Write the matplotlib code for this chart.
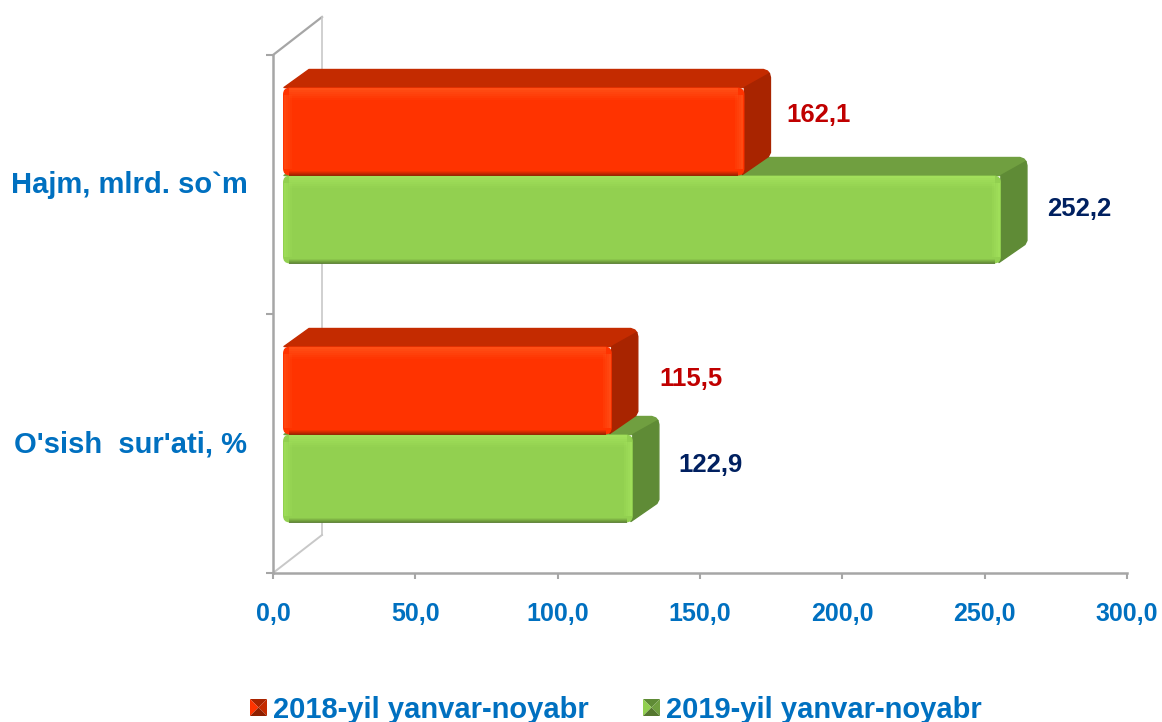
import matplotlib
matplotlib.use('Agg')  # no display in the sandbox
import matplotlib.pyplot as plt
from matplotlib.patches import FancyBboxPatch, Polygon, Rectangle
from matplotlib.transforms import IdentityTransform

plt.rcParams['font.family'] = ['Liberation Sans', 'DejaVu Sans']

categories = ["O'sish  sur'ati, %", "Hajm, mlrd. so`m"]
series_names = ['2018-yil yanvar-noyabr', '2019-yil yanvar-noyabr']
values_2018 = [115.5, 162.1]
values_2019 = [122.9, 252.2]
value_labels_2018 = ['115,5', '162,1']
value_labels_2019 = ['122,9', '252,2']
x_ticks = [0, 50, 100, 150, 200, 250, 300]
x_tick_labels = ['0,0', '50,0', '100,0', '150,0', '200,0', '250,0', '300,0']

W, H = 1162, 722
BLUE = '#0070C0'
AXIS = '#A6A6A6'
RED = dict(front='#FF3300', light='#FF5A1F', dark='#8E1F00', top='#C42B00', side='#A82400', text='#C00000')
GREEN = dict(front='#92D050', light='#A9E860', dark='#55772F', top='#709F40', side='#5F8B36', text='#002060')

# front face of the bars sits this far from the axis, depth goes to the back wall
SHIFT_X, SHIFT_Y = 10, 9
DEPTH_X, DEPTH_Y = 26, 18
WALL_X, WALL_Y = 49, 38
BAR_H = 88 / 259

fig = plt.figure(figsize=(W / 100, H / 100), dpi=100)
ax = fig.add_axes([273 / W, (H - 573) / H, 854 / W, 518 / H])
ax.set_xlim(0, 300)
ax.set_ylim(0, 2)
ax.patch.set_alpha(0)

for side in ['top', 'right']:
    ax.spines[side].set_visible(False)
for side in ['left', 'bottom']:
    ax.spines[side].set_color(AXIS)
    ax.spines[side].set_linewidth(1.8)

ax.set_xticks(x_ticks)
ax.set_xticklabels(x_tick_labels, fontsize=18, fontweight='bold', color=BLUE)
ax.tick_params(axis='x', length=4, width=1.5, color=AXIS, pad=17)
ax.set_yticks([0, 1, 2])
ax.set_yticklabels([])
ax.tick_params(axis='y', which='major', length=5, width=1.5, color=AXIS)
# minor ticks carry the category names, nudged 2 px up
ax.set_yticks([0.508, 1.508], minor=True)
ax.set_yticklabels(categories, minor=True, fontsize=21, fontweight='bold', color=BLUE)
ax.tick_params(axis='y', which='minor', length=0, pad=18.5)


def px(x, y):
    return ax.transData.transform((x, y))


def add_poly(points, color, z):
    ax.add_patch(Polygon(points, closed=True, facecolor=color, edgecolor=color, lw=1,
                         joinstyle='round', transform=IdentityTransform(), zorder=z,
                         clip_on=False))


def add_strip(x, y, w, h, color, alpha, z):
    ax.add_patch(Rectangle((x, y), w, h, facecolor=color, edgecolor='none', alpha=alpha,
                           transform=IdentityTransform(), zorder=z, clip_on=False))


def draw_bar(value, y_low, colors, z):
    x0, y0 = px(0, y_low)
    x1, y1 = px(value, y_low + BAR_H)
    x0, x1 = x0 + SHIFT_X, x1 + SHIFT_X
    y0, y1 = y0 + SHIFT_Y, y1 + SHIFT_Y
    bx, by = x1 + DEPTH_X, y1 + DEPTH_Y
    # top and side faces, back corners cut to look rounded
    add_poly([(x0 + 1, y1), (x0 + DEPTH_X, by), (bx - 7, by), (bx - 3, by - 1.5),
              (bx - 1, by - 4), (x1, y1)], colors['top'], z)
    low = y0 + DEPTH_Y
    add_poly([(x1 - 2, y0 + 1), (x1, y1), (bx - 1, by - 4), (bx, by - 8), (bx, low + 5),
              (bx - 2, low + 1)], colors['side'], z)
    # front face with rounded corners
    r = 7
    face = FancyBboxPatch((x0 + r, y0 + r), x1 - x0 - 2 * r, y1 - y0 - 2 * r,
                          boxstyle=f'round,pad={r},rounding_size={r}',
                          facecolor=colors['front'], edgecolor='none',
                          transform=IdentityTransform(), zorder=z + 1, clip_on=False)
    ax.add_patch(face)
    # bevel: soft strips along the edges of the face
    for i in range(6):
        add_strip(x0 + 6, y1 - 2 - 2 * i, x1 - x0 - 12, 2, colors['light'], 0.7 - 0.12 * i, z + 2)
    for i in range(4):
        add_strip(x0 + 1 + 2 * i, y0 + 7, 2, y1 - y0 - 14, colors['light'], 0.5 - 0.12 * i, z + 2)
        add_strip(x1 - 3 - 2 * i, y0 + 7, 2, y1 - y0 - 14, colors['light'], 0.6 - 0.14 * i, z + 2)
    for i in range(5):
        add_strip(x0 + 6, y0 + i, x1 - x0 - 12, 1, colors['dark'], 0.85 - 0.18 * i, z + 2)


# back wall lines
x_l, y_b = px(0, 0)
x_l2, y_t = px(0, 2)
ax.plot([x_l, x_l + WALL_X], [y_t, y_t + WALL_Y], color=AXIS, lw=1.6,
        transform=IdentityTransform(), clip_on=False, zorder=1)
ax.plot([x_l + WALL_X] * 2, [y_b + WALL_Y, y_t + WALL_Y], color='#C8C8C8', lw=1.2,
        transform=IdentityTransform(), clip_on=False, zorder=1)
ax.plot([x_l, x_l + WALL_X], [y_b, y_b + WALL_Y], color='#C8C8C8', lw=1.4,
        transform=IdentityTransform(), clip_on=False, zorder=1)

label_offsets_2018 = [(89, 12), (84, 17)]
label_offsets_2019 = [(88, 14), (88, 11)]

for i in range(len(categories)):
    draw_bar(values_2019[i], i + 0.5 - BAR_H, GREEN, 3)
    draw_bar(values_2018[i], i + 0.5, RED, 6)
    ax.annotate(value_labels_2018[i], (values_2018[i], i + 0.5 + BAR_H / 2),
                xytext=(label_offsets_2018[i][0], label_offsets_2018[i][1] + SHIFT_Y),
                textcoords='offset pixels', ha='center', va='center',
                fontsize=18.5, fontweight='bold', color=RED['text'], zorder=10)
    ax.annotate(value_labels_2019[i], (values_2019[i], i + 0.5 - BAR_H / 2),
                xytext=(label_offsets_2019[i][0], label_offsets_2019[i][1] + SHIFT_Y),
                textcoords='offset pixels', ha='center', va='center',
                fontsize=18.5, fontweight='bold', color=GREEN['text'], zorder=10)


def legend_key(x, y, s, colors):
    # small pyramid square, as the 3D chart draws it
    trans = IdentityTransform()
    c = (x + s / 2, y + s / 2)
    faces = [([(x, y + s), (x + s, y + s), c], colors['side']),
             ([(x, y), (x, y + s), c], colors['front']),
             ([(x + s, y), (x + s, y + s), c], colors['top']),
             ([(x, y), (x + s, y), c], colors['dark'])]
    for pts, col in faces:
        fig.add_artist(Polygon(pts, closed=True, facecolor=col, edgecolor='none', transform=trans))


legend_y = H - 708
legend_key(250, legend_y - 8, 17, RED)
legend_key(643, legend_y - 8, 17, GREEN)
fig.text(273 / W, (legend_y - 2) / H, series_names[0], fontsize=21, fontweight='bold', color=BLUE,
         ha='left', va='center')
fig.text(666 / W, (legend_y - 2) / H, series_names[1], fontsize=21, fontweight='bold', color=BLUE,
         ha='left', va='center')

fig.savefig('out.png', dpi=100)
